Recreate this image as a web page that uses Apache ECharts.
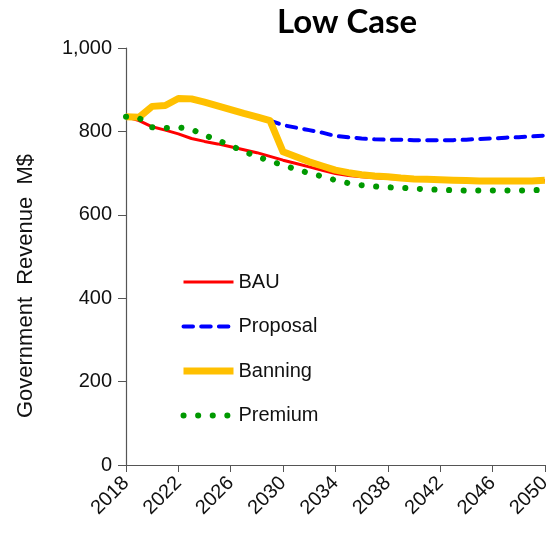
<!DOCTYPE html>
<html>
<head>
<meta charset="utf-8">
<script src="https://cdn.jsdelivr.net/npm/echarts@6/dist/echarts.min.js"></script>
<style>
  html, body { margin: 0; padding: 0; background: #fff; }
  #chart { width: 554px; height: 533px; }
</style>
</head>
<body>
<div id="chart"></div>
<script>
// Government revenue (M$) per year, low case scenarios
const years = [2018, 2019, 2020, 2021, 2022, 2023, 2024, 2025, 2026, 2027, 2028,
  2029, 2030, 2031, 2032, 2033, 2034, 2035, 2036, 2037, 2038, 2039, 2040,
  2041, 2042, 2043, 2044, 2045, 2046, 2047, 2048, 2049, 2050];

const bau = [835, 826, 811, 803, 794, 783, 776, 770, 763, 756, 749,
  740, 731, 723, 715, 707, 699, 694, 691, 689, 687, 686, 685,
  684, 683, 682, 681, 681, 681, 681, 681, 681, 682];

// Proposal diverges from 2029 onward
const proposal = [null, null, null, null, null, null, null, null, null, null, null,
  826, 815, 809, 803, 797, 789, 786, 783, 781, 780, 780, 779,
  779, 779, 779, 780, 782, 783, 785, 786, 788, 790];

const banning = [835, 834, 860, 862, 879, 878, 870, 861, 852, 843, 835,
  826, 751, 739, 727, 717, 707, 701, 696, 693, 691, 688, 686,
  685, 684, 683, 682, 681, 681, 681, 681, 681, 683];

const premium = [835, 832, 810, 808, 810, 805, 791, 779, 766, 752, 740,
  729, 719, 709, 700, 692, 683, 676, 671, 668, 666, 665, 663,
  661, 660, 659, 658, 658, 658, 658, 658, 659, 660];

const seriesNames = ['BAU', 'Proposal', 'Banning', 'Premium'];
const yTicks = [0, 200, 400, 600, 800, 1000];
const xTicks = [2018, 2022, 2026, 2030, 2034, 2038, 2042, 2046, 2050];

const pairs = arr => years.map((y, i) => [y, arr[i]]);

// Line styles shared by the plotted series and their legend entries
const styles = {
  BAU: { color: '#ff0000', width: 3, type: 'solid' },
  Proposal: { color: '#0000ff', width: 4, type: [9.5, 8.2], cap: 'round' },
  Banning: { color: '#ffc000', width: 7, type: 'solid', join: 'round' },
  Premium: { color: '#009900', width: 6, type: [0.1, 14.5], cap: 'round' }
};

const chart = echarts.init(document.getElementById('chart'), null, { renderer: 'canvas' });

const textFont = 'Arial';

chart.setOption({
  backgroundColor: '#ffffff',
  animation: false,
  title: {
    text: 'Low Case',
    left: 272,
    top: 1,
    textStyle: {
      fontFamily: 'Lato',
      fontWeight: 'bold',
      fontSize: 33,
      color: '#000'
    }
  },
  grid: { left: 126, right: 6, top: 48, bottom: 68, containLabel: false },
  xAxis: {
    type: 'value',
    min: xTicks[0],
    max: xTicks[xTicks.length - 1],
    interval: 4,
    axisLine: { lineStyle: { color: '#555', width: 1.2 } },
    axisTick: { show: true, length: 7, lineStyle: { color: '#555' } },
    splitLine: { show: false },
    axisLabel: {
      rotate: 45,
      margin: 15,
      fontFamily: textFont,
      fontSize: 20,
      color: '#111',
      formatter: v => String(v)
    }
  },
  yAxis: {
    type: 'value',
    min: yTicks[0],
    max: yTicks[yTicks.length - 1],
    interval: 200,
    axisLine: { show: true, lineStyle: { color: '#555', width: 1.2 } },
    axisTick: { show: true, length: 8, lineStyle: { color: '#555' } },
    splitLine: { show: false },
    axisLabel: {
      margin: 14,
      fontFamily: textFont,
      fontSize: 20,
      color: '#111',
      formatter: v => v.toLocaleString('en-US')
    }
  },
  legend: {
    orient: 'vertical',
    left: 180,
    top: 272,
    padding: 0,
    itemWidth: 50,
    itemHeight: 20,
    itemGap: 24.5,
    itemStyle: { opacity: 0 },
    data: seriesNames.map(n => ({ name: n, lineStyle: Object.assign({}, styles[n]) })),
    textStyle: { fontFamily: textFont, fontSize: 20, color: '#111', padding: [0, 0, 0, 0] }
  },
  graphic: [{
    type: 'text',
    x: 26,
    y: 286,
    rotation: Math.PI / 2,
    style: {
      text: 'Government  Revenue  M$',
      font: '22px Arial',
      fill: '#111',
      textAlign: 'center',
      textVerticalAlign: 'middle'
    }
  }],
  series: [
    { name: 'BAU', type: 'line', data: pairs(bau), symbol: 'none',
      color: styles.BAU.color, lineStyle: styles.BAU },
    { name: 'Proposal', type: 'line', data: pairs(proposal), symbol: 'none',
      color: styles.Proposal.color, lineStyle: styles.Proposal },
    { name: 'Banning', type: 'line', data: pairs(banning), symbol: 'none',
      color: styles.Banning.color, lineStyle: styles.Banning },
    { name: 'Premium', type: 'line', data: pairs(premium), symbol: 'none',
      color: styles.Premium.color, lineStyle: styles.Premium }
  ]
});
</script>
</body>
</html>
